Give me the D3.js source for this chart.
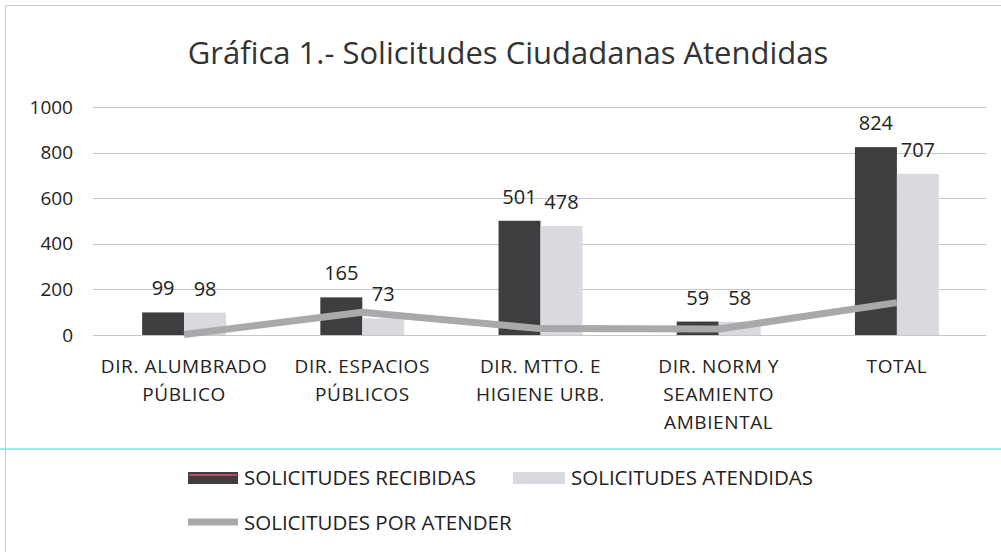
<!DOCTYPE html>
<html>
<head>
<meta charset="utf-8">
<script src="https://cdn.jsdelivr.net/npm/d3@7"></script>
<style>
  body { margin: 0; background: #fff; }
  svg text { font-family: "Open Sans", "Noto Sans", sans-serif; fill: #222; }
</style>
</head>
<body>
<svg id="chart" width="1001" height="552"></svg>
<script>
// chart values
var categories = ["DIR. ALUMBRADO PÚBLICO", "DIR. ESPACIOS PÚBLICOS", "DIR. MTTO. E HIGIENE URB.", "DIR. NORM Y SEAMIENTO AMBIENTAL", "TOTAL"];
var categoryLines = [["DIR. ALUMBRADO", "PÚBLICO"], ["DIR. ESPACIOS", "PÚBLICOS"], ["DIR. MTTO. E", "HIGIENE URB."], ["DIR. NORM Y", "SEAMIENTO", "AMBIENTAL"], ["TOTAL"]];
var recibidas = [99, 165, 501, 59, 824];
var atendidas = [98, 73, 478, 58, 707];
var porAtender = [2, 100, 28, 26, 142];
var yTicks = [0, 200, 400, 600, 800, 1000];
var seriesNames = ["SOLICITUDES RECIBIDAS", "SOLICITUDES ATENDIDAS", "SOLICITUDES POR ATENDER"];

var svg = d3.select('#chart');

// frame of the scanned chart area
svg.append('rect')
    .attr('x', 5.5).attr('y', 5.5)
    .attr('width', 1010).attr('height', 560)
    .attr('fill', 'none')
    .attr('stroke', '#c9c9c9');

svg.append('text')
    .attr('x', 508).attr('y', 64)
    .attr('text-anchor', 'middle')
    .style('font-size', '31px')
    .style('fill', '#333')
    .text('Gráfica 1.- Solicitudes Ciudadanas Atendidas');

var x = d3.scaleBand().domain(categories).range([95, 986]).paddingInner(0.529).paddingOuter(0.2645);
var x1 = d3.scaleBand().domain([0, 1]).range([0, x.bandwidth()]);
var y = d3.scaleLinear().domain([0, 1000]).range([335, 107]);

// gridlines
svg.append('g')
    .selectAll('line')
    .data(yTicks)
    .join('line')
    .attr('x1', 93).attr('x2', 986)
    .attr('y1', function(d) { return Math.round(y(d)) + 0.5; })
    .attr('y2', function(d) { return Math.round(y(d)) + 0.5; })
    .attr('stroke', '#c6c6c6')
    .attr('stroke-width', 1);

// y axis labels
var yAxis = svg.append('g')
    .attr('transform', 'translate(73,0)')
    .call(d3.axisLeft(y).tickValues(yTicks).tickFormat(d3.format('d')).tickSize(0).tickPadding(0));
yAxis.select('.domain').remove();
yAxis.selectAll('text')
    .style('font-size', '19px')
    .style('font-family', '"Open Sans", sans-serif')
    .attr('fill', '#222');

// bars
var barColors = ['#3e3e40', '#d9dae0'];
var seriesVals = [recibidas, atendidas];
seriesVals.forEach(function(vals, s) {
    var g = svg.append('g');
    g.selectAll('rect')
        .data(vals)
        .join('rect')
        .attr('x', function(d, i) { return x(categories[i]) + x1(s); })
        .attr('y', function(d) { return y(d); })
        .attr('width', x1.bandwidth())
        .attr('height', function(d) { return y(0) - y(d); })
        .attr('fill', barColors[s]);
    g.selectAll('text')
        .data(vals)
        .join('text')
        .attr('x', function(d, i) { return x(categories[i]) + x1(s) + x1.bandwidth() / 2; })
        .attr('y', function(d) { return y(d) - 17; })
        .attr('text-anchor', 'middle')
        .style('font-size', '20px')
        .text(function(d) { return d; });
});

// line series
var line = d3.line()
    .x(function(d, i) { return x(categories[i]) + x.bandwidth() / 2; })
    .y(function(d) { return y(d); });
svg.append('path')
    .datum(porAtender)
    .attr('d', line)
    .attr('fill', 'none')
    .attr('stroke', '#a9a9ab')
    .attr('stroke-width', 7)
    .attr('stroke-linejoin', 'round');

// category labels
var catG = svg.append('g');
categories.forEach(function(c, i) {
    var t = catG.append('text')
        .attr('x', x(c) + x.bandwidth() / 2)
        .attr('y', 373)
        .attr('text-anchor', 'middle')
        .style('font-size', '19px')
        .style('letter-spacing', '0.6px');
    categoryLines[i].forEach(function(l, j) {
        t.append('tspan')
            .attr('x', x(c) + x.bandwidth() / 2)
            .attr('dy', j == 0 ? 0 : 28)
            .text(l);
    });
});

// scan artifact line
svg.append('line')
    .attr('x1', 0).attr('x2', 1001)
    .attr('y1', 449).attr('y2', 449)
    .attr('stroke', '#7fe3ea').attr('stroke-width', 1.5);

// legend
var legend = svg.append('g');
legend.append('rect').attr('x', 188).attr('y', 472).attr('width', 50).attr('height', 12).attr('fill', barColors[0]);
legend.append('line').attr('x1', 189).attr('x2', 237).attr('y1', 475).attr('y2', 475).attr('stroke', '#e0506a').attr('stroke-width', 1.5);
legend.append('text').attr('x', 244).attr('y', 485).style('font-size', '20.5px').text(seriesNames[0]);
legend.append('rect').attr('x', 513).attr('y', 472).attr('width', 52).attr('height', 12).attr('fill', barColors[1]);
legend.append('text').attr('x', 571).attr('y', 485).style('font-size', '20.5px').text(seriesNames[1]);
legend.append('line').attr('x1', 188).attr('x2', 238).attr('y1', 522).attr('y2', 522).attr('stroke', '#a9a9ab').attr('stroke-width', 7);
legend.append('text').attr('x', 244).attr('y', 530).style('font-size', '20.5px').text(seriesNames[2]);
</script>
</body>
</html>
